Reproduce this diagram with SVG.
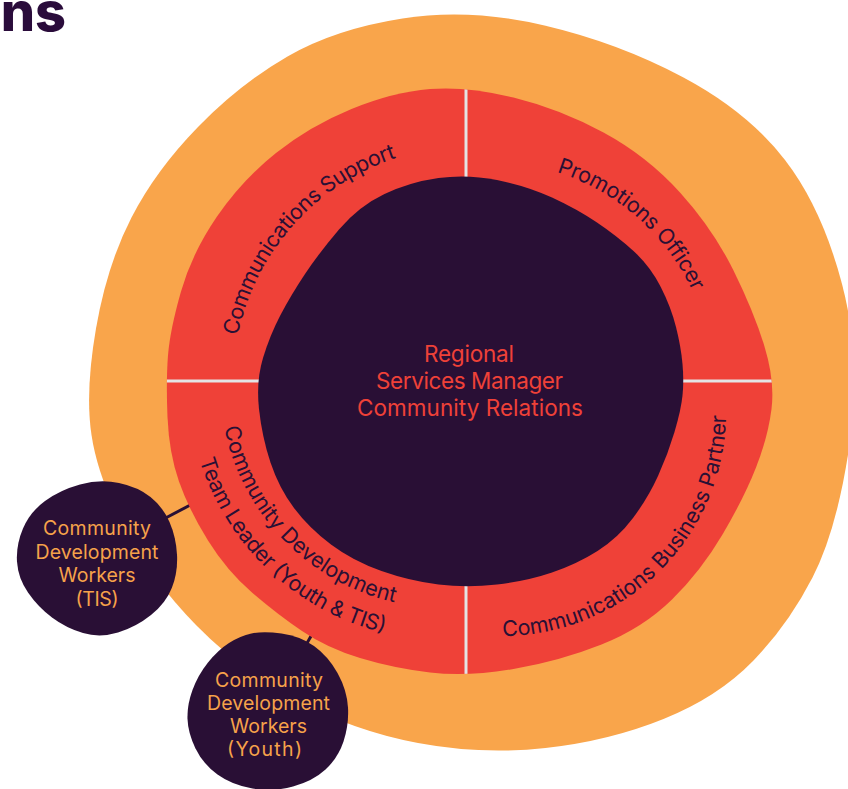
<svg xmlns="http://www.w3.org/2000/svg" width="848" height="789" viewBox="0 0 848 789">
<style>
  .ring { fill: #ef4138; }
  .dark { fill: #290f35; }
  .ringtxt { font-family: Inter, "Noto Sans", sans-serif; font-size: 21.5px; fill: #2a1035; }
  .centertxt { font-family: Inter, "Noto Sans", sans-serif; font-size: 22.5px; fill: #ef4138; text-anchor: middle; }
  .smalltxt { font-family: Inter, "Noto Sans", sans-serif; font-size: 19.5px; fill: #f6a24a; text-anchor: middle; }
  .conn { stroke: #2a1035; stroke-width: 3; fill: none; }
  .divider { stroke: #e4e4e4; stroke-width: 3; }
</style>
<defs>
  <clipPath id="ringClip">
    <path d="M 430,89 Q 467,86 513.5,97.5 Q 560,109 603.5,132.5 Q 647,156 680,192.5 Q 713,229 733.5,270.5 Q 754,312 764.5,346.5 Q 775,381 771.5,409 Q 768,437 756,467.5 Q 744,498 722.5,534.5 Q 701,571 672,599.5 Q 643,628 601.5,644.5 Q 560,661 513.5,669 Q 467,677 430,672.5 Q 393,668 360,658 Q 327,648 302,631 Q 277,614 252,592.5 Q 227,571 208,540.5 Q 189,510 179,481.5 Q 169,453 167.5,417 Q 166,381 168,355.5 Q 170,330 181,291.5 Q 192,253 217,216.5 Q 242,180 276,153 Q 310,126 351.5,109 Q 393,92 430,89 Z"/>
  </clipPath>
  <path id="arcTL" d="M 271.9,513.1 A 237 237 0 0 1 576.5,171.3"/>
  <path id="arcTR" d="M 382.9,189.4 A 223 223 0 0 1 697.8,466.0"/>
  <path id="arcBR" d="M 388.8,605.3 A 224 224 0 0 0 696.7,301.2"/>
  <path id="arcBL1" d="M 251.5,269.4 A 224 224 0 0 0 553.4,579.4"/>
  <path id="arcBL2" d="M 218.2,263.4 A 256 256 0 0 0 579.3,601.3"/>
</defs>

<text x="66" y="31" text-anchor="end" font-family="Inter, 'Noto Sans', sans-serif" font-size="54" font-weight="800" fill="#2a0c3b">ns</text>

<g id="outer-ring">
  <path fill="#f9a54b" d="M 402.5,18.5 Q 470,8 544.5,25.5 Q 619,43 683.5,77.5 Q 748,112 785,160 Q 822,208 842,284 Q 862,360 849.5,445 Q 837,530 812.5,577.5 Q 788,625 753,661 Q 718,697 663.5,719 Q 609,741 545.5,748 Q 482,755 418,743 Q 354,731 297,700.5 Q 240,670 196,625 Q 152,580 125,529 Q 98,478 91.5,435 Q 85,392 96,328.5 Q 107,265 131.5,217.5 Q 156,170 198,127 Q 240,84 287.5,56.5 Q 335,29 402.5,18.5 Z"/>
</g>

<g id="connectors">
  <line class="conn" x1="158" y1="522" x2="196" y2="502"/>
  <line class="conn" x1="302" y1="652" x2="319" y2="622"/>
</g>

<g id="communications-support">
  <rect class="ring" x="100" y="50" width="366" height="331" clip-path="url(#ringClip)"/>
  <text class="ringtxt"><textPath href="#arcTL" startOffset="50%" text-anchor="middle" textLength="250" lengthAdjust="spacing">Communications Support</textPath></text>
</g>
<g id="promotions-officer">
  <rect class="ring" x="466" y="50" width="350" height="331" clip-path="url(#ringClip)"/>
  <text class="ringtxt"><textPath href="#arcTR" startOffset="50%" text-anchor="middle" textLength="186" lengthAdjust="spacing">Promotions Officer</textPath></text>
</g>
<g id="communications-business-partner">
  <rect class="ring" x="466" y="381" width="350" height="340" clip-path="url(#ringClip)"/>
  <text class="ringtxt"><textPath href="#arcBR" startOffset="50%" text-anchor="middle" textLength="348" lengthAdjust="spacing">Communications Business Partner</textPath></text>
</g>
<g id="community-development-team-leader">
  <rect class="ring" x="100" y="381" width="366" height="340" clip-path="url(#ringClip)"/>
  <text class="ringtxt"><textPath href="#arcBL1" startOffset="50%" text-anchor="middle" textLength="258" lengthAdjust="spacing">Community Development</textPath></text>
  <text class="ringtxt"><textPath href="#arcBL2" startOffset="50%" text-anchor="middle" textLength="264" lengthAdjust="spacing">Team Leader (Youth &amp; TIS)</textPath></text>
</g>

<g id="dividers" clip-path="url(#ringClip)">
  <line class="divider" x1="466" y1="70" x2="466" y2="200"/>
  <line class="divider" x1="466" y1="560" x2="466" y2="690"/>
  <line class="divider" x1="150" y1="381" x2="280" y2="381"/>
  <line class="divider" x1="660" y1="381" x2="790" y2="381"/>
</g>

<g id="regional-services-manager">
  <path class="dark" d="M 438.5,178 Q 467,174 497,180 Q 527,186 552,197.5 Q 577,209 597,222.5 Q 617,236 633.5,251 Q 650,266 660.5,286.5 Q 671,307 676,327 Q 681,347 682.5,364 Q 684,381 682.5,395.5 Q 681,410 674.5,432 Q 668,454 658,476 Q 648,498 633,518 Q 618,538 597.5,551 Q 577,564 552,572.5 Q 527,581 497,584.5 Q 467,588 438.5,584.5 Q 410,581 381.5,571 Q 353,561 331,544.5 Q 309,528 294,508 Q 279,488 270.5,462.5 Q 262,437 259,409 Q 256,381 263,358 Q 270,335 280.5,315 Q 291,295 305,274 Q 319,253 339,229.5 Q 359,206 384.5,194 Q 410,182 438.5,178 Z"/>
  <text class="centertxt" x="469" y="362" textLength="90" lengthAdjust="spacing">Regional</text>
  <text class="centertxt" x="469.5" y="389" textLength="187" lengthAdjust="spacing">Services Manager</text>
  <text class="centertxt" x="470" y="416" textLength="226" lengthAdjust="spacing">Community Relations</text>
</g>

<g id="cdw-tis">
  <path class="dark" d="M 80,484.5 Q 100,479 119,483 Q 138,487 150.5,497 Q 163,507 169.5,522 Q 176,537 177,554.5 Q 178,572 172,587.5 Q 166,603 151,615 Q 136,627 118,632.5 Q 100,638 83,633 Q 66,628 52,617.5 Q 38,607 28,592.5 Q 18,578 17,561.5 Q 16,545 23,528.5 Q 30,512 45,501 Q 60,490 80,484.5 Z"/>
  <text class="smalltxt" x="97" y="535" textLength="108" lengthAdjust="spacing">Community</text>
  <text class="smalltxt" x="97" y="559" textLength="123" lengthAdjust="spacing">Development</text>
  <text class="smalltxt" x="97" y="582" textLength="77" lengthAdjust="spacing">Workers</text>
  <text class="smalltxt" x="97" y="606" textLength="43" lengthAdjust="spacing">(TIS)</text>
</g>

<g id="cdw-youth">
  <path class="dark" d="M 251.5,633.5 Q 263,631 281.5,633.5 Q 300,636 314,646 Q 328,656 337.5,673 Q 347,690 348,707.5 Q 349,725 343.5,741.5 Q 338,758 325.5,769.5 Q 313,781 293,786.5 Q 273,792 252.5,788.5 Q 232,785 217.5,774.5 Q 203,764 195.5,748.5 Q 188,733 187.5,719 Q 187,705 192.5,690 Q 198,675 208,662.5 Q 218,650 229,643 Q 240,636 251.5,633.5 Z"/>
  <text class="smalltxt" x="269" y="687" textLength="108" lengthAdjust="spacing">Community</text>
  <text class="smalltxt" x="268.5" y="710" textLength="123" lengthAdjust="spacing">Development</text>
  <text class="smalltxt" x="268.5" y="733" textLength="77" lengthAdjust="spacing">Workers</text>
  <text class="smalltxt" x="264.5" y="756" textLength="75" lengthAdjust="spacing">(Youth)</text>
</g>
</svg>
